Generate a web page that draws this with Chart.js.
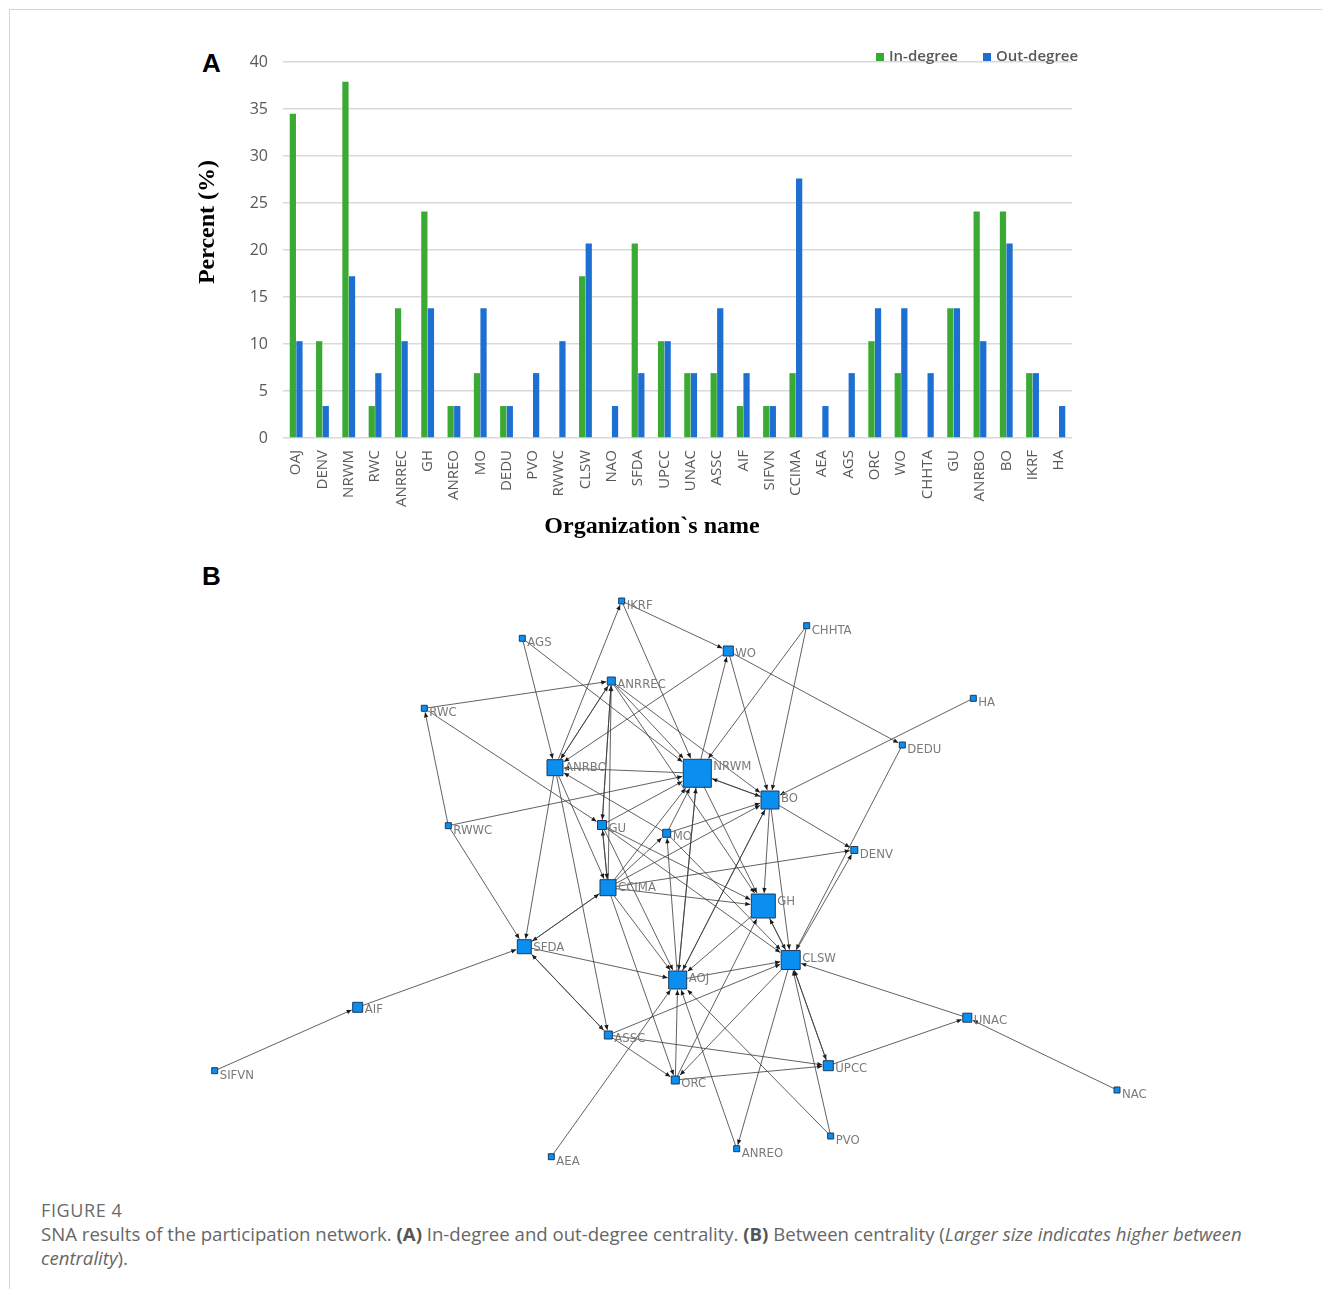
<!DOCTYPE html>
<html>
<head>
<meta charset="utf-8">
<script src="https://cdn.jsdelivr.net/npm/chart.js@4.4.0/dist/chart.umd.min.js"></script>
<style>
  body { margin: 0; background: #fff; width: 1322px; height: 1289px; position: relative; overflow: hidden; }
  #frame { position: absolute; left: 9px; top: 9px; right: 0; bottom: 0; border-left: 1px solid #d6d6d6; border-top: 1px solid #d6d6d6; }
  .panel { position: absolute; font-family: "Liberation Sans", Arial, sans-serif; font-weight: bold; font-size: 26px; color: #000; line-height: 1; }
  #barWrap { position: absolute; left: 190px; top: 30px; }
  #netWrap { position: absolute; left: 0; top: 580px; }
  #caption { position: absolute; left: 41px; top: 1197px; width: 1235px; font-family: "Open Sans", sans-serif; color: #666; }
  #caption .fig { font-size: 18px; line-height: 26px; color: #6a6a6a; letter-spacing: 0.6px; }
  #caption .txt { font-size: 18.6px; line-height: 24px; margin-top: -1px; }
  #caption b { font-weight: 700; color: #555; }
</style>
</head>
<body>
<div id="frame"></div>
<div class="panel" style="left:202px;top:50px;">A</div>
<div class="panel" style="left:202px;top:563px;">B</div>
<div id="barWrap"><canvas id="degreeChart" width="900" height="515"></canvas></div>
<div id="netWrap"><canvas id="netChart" width="1322" height="600"></canvas></div>
<div id="caption">
  <div class="fig">FIGURE 4</div>
  <div class="txt">SNA results of the participation network. <b>(A)</b> In-degree and out-degree centrality. <b>(B)</b> Between centrality (<i>Larger size indicates higher between centrality</i>).</div>
</div>
<script>
// panel A: degree centrality (%)
const orgNames = ["OAJ", "DENV", "NRWM", "RWC", "ANRREC", "GH", "ANREO", "MO", "DEDU", "PVO",
  "RWWC", "CLSW", "NAO", "SFDA", "UPCC", "UNAC", "ASSC", "AIF", "SIFVN", "CCIMA",
  "AEA", "AGS", "ORC", "WO", "CHHTA", "GU", "ANRBO", "BO", "IKRF", "HA"];
const inDegree = [34.5, 10.3, 37.9, 3.4, 13.8, 24.1, 3.4, 6.9, 3.4, 0,
  0, 17.2, 0, 20.7, 10.3, 6.9, 6.9, 3.4, 3.4, 6.9,
  0, 0, 10.3, 6.9, 0, 13.8, 24.1, 24.1, 6.9, 0];
const outDegree = [10.3, 3.4, 17.2, 6.9, 10.3, 13.8, 3.4, 13.8, 3.4, 6.9,
  10.3, 20.7, 3.4, 6.9, 10.3, 6.9, 13.8, 6.9, 3.4, 27.6,
  3.4, 6.9, 13.8, 13.8, 6.9, 13.8, 10.3, 20.7, 6.9, 3.4];
const yTicks = [0, 5, 10, 15, 20, 25, 30, 35, 40];

// panel B: network layout (as in the figure) and betweenness node size
const nodeNames = ["IKRF", "AGS", "CHHTA", "WO", "ANRREC", "RWC", "HA", "DEDU", "ANRBO", "NRWM",
  "BO", "RWWC", "GU", "MO", "DENV", "CCIMA", "GH", "SFDA", "CLSW", "AOJ",
  "AIF", "UNAC", "ASSC", "SIFVN", "UPCC", "ORC", "NAC", "PVO", "ANREO", "AEA"];
const nodeX = [621.7, 522.3, 806.7, 728.3, 611.3, 424.3, 973.3, 902.3, 555, 697.3,
  770, 448.3, 602, 666.7, 854.3, 608, 763.3, 524.3, 790.7, 677.7,
  357.7, 967.3, 608.3, 214.7, 828.3, 675.3, 1117, 830.7, 736.7, 551.3];
const nodeY = [601, 638.3, 625.7, 651, 681, 708.3, 698.3, 745, 767.7, 773.3,
  800, 825.7, 825, 833.3, 850, 887.7, 906, 946.7, 960, 980,
  1007.3, 1017.7, 1035, 1070.7, 1065.7, 1080, 1090, 1136, 1148.7, 1156.7];
const nodeSize = [6, 6, 6, 10, 8, 6, 6, 6, 16, 28,
  18, 6, 9, 8, 7, 16, 24, 14, 19, 18,
  10, 9, 8, 6, 10, 8, 6, 6, 6, 6];

const edgeFrom = ["SIFVN", "AIF", "AEA", "HA", "WO", "DEDU", "CHHTA", "CHHTA", "IKRF", "IKRF",
  "ANRBO", "AGS", "AGS", "RWC", "RWC", "RWWC", "RWWC", "RWWC", "NRWM", "WO",
  "WO", "ANRBO", "CCIMA", "GU", "ANRREC", "ANRREC", "ANRREC", "ANRREC", "NRWM", "NRWM",
  "BO", "NRWM", "NRWM", "GU", "MO", "CCIMA", "AOJ", "BO", "BO", "BO",
  "BO", "MO", "CCIMA", "AOJ", "MO", "ANRBO", "ANRBO", "ANRBO", "GU", "GU",
  "CCIMA", "GU", "CCIMA", "AOJ", "MO", "CCIMA", "SFDA", "CCIMA", "CCIMA", "CCIMA",
  "GH", "CLSW", "ORC", "GH", "SFDA", "SFDA", "ASSC", "AOJ", "UNAC", "CLSW",
  "UPCC", "CLSW", "CLSW", "CLSW", "PVO", "ASSC", "ORC", "PVO", "ANREO", "UPCC",
  "NAC", "ASSC", "ASSC", "ORC", "GU", "CCIMA", "ANRREC"];
const edgeTo = ["AIF", "SFDA", "AOJ", "BO", "DEDU", "CLSW", "BO", "NRWM", "WO", "NRWM",
  "IKRF", "ANRBO", "NRWM", "ANRREC", "GU", "RWC", "NRWM", "SFDA", "WO", "BO",
  "ANRBO", "ANRREC", "ANRREC", "ANRREC", "GU", "NRWM", "BO", "ANRBO", "ANRBO", "BO",
  "NRWM", "GH", "AOJ", "NRWM", "NRWM", "NRWM", "NRWM", "DENV", "GH", "CLSW",
  "AOJ", "BO", "BO", "BO", "ANRBO", "SFDA", "CCIMA", "ASSC", "GH", "AOJ",
  "GU", "CCIMA", "MO", "MO", "CLSW", "SFDA", "CCIMA", "DENV", "GH", "AOJ",
  "CLSW", "GH", "GH", "AOJ", "AOJ", "ASSC", "SFDA", "CLSW", "CLSW", "UPCC",
  "CLSW", "ANREO", "DENV", "ORC", "CLSW", "CLSW", "AOJ", "AOJ", "AOJ", "UNAC",
  "UNAC", "ORC", "UPCC", "UPCC", "CLSW", "ORC", "GH"];

const degreeLegend = {
    id: "degreeLegend",
    afterDraw(chart) {
        const ctx = chart.ctx;
        const area = chart.chartArea;
        const y = area.top - 6;
        ctx.save();
        ctx.font = '600 15px "Open Sans"';
        ctx.textBaseline = "middle";
        ctx.fillStyle = chart.data.datasets[0].backgroundColor;
        ctx.fillRect(area.right - 196, y - 3, 8, 8);
        ctx.fillStyle = "#595959";
        ctx.fillText("In-degree", area.right - 183, y + 1);
        ctx.fillStyle = chart.data.datasets[1].backgroundColor;
        ctx.fillRect(area.right - 89, y - 3, 8, 8);
        ctx.fillStyle = "#595959";
        ctx.fillText("Out-degree", area.right - 76, y + 1);
        ctx.restore();
    }
};

// axis titles sit a bit off-centre in the original figure, so draw them here
const axisTitles = {
    id: "axisTitles",
    afterDraw(chart) {
        const ctx = chart.ctx;
        ctx.save();
        ctx.fillStyle = "#000";
        ctx.font = 'bold 24px "Liberation Serif"';
        ctx.textAlign = "center";
        ctx.textBaseline = "middle";
        ctx.fillText("Organization`s name", 462, 497);
        ctx.translate(18, 192);
        ctx.rotate(-Math.PI / 2);
        ctx.fillText("Percent (%)", 0, 0);
        ctx.restore();
    }
};

new Chart(document.getElementById("degreeChart"), {
    type: "bar",
    data: {
        labels: orgNames,
        datasets: [
            {label: "In-degree", data: inDegree, backgroundColor: "#3aaa35", categoryPercentage: 0.5, barPercentage: 0.95},
            {label: "Out-degree", data: outDegree, backgroundColor: "#1d6fd2", categoryPercentage: 0.5, barPercentage: 0.95}
        ]
    },
    options: {
        responsive: false,
        animation: false,
        layout: {padding: {top: 32, right: 18, left: 0, bottom: 0}},
        plugins: {legend: {display: false}, tooltip: {enabled: false}},
        scales: {
            x: {
                grid: {display: false, drawTicks: false},
                border: {display: false},
                ticks: {minRotation: 90, maxRotation: 90, autoSkip: false, padding: 12,
                    font: {family: "Open Sans", size: 15}, color: "#595959"},
                afterFit(scale) { scale.height = 107; }
            },
            y: {
                min: 0,
                max: 40,
                afterBuildTicks(scale) { scale.ticks = yTicks.map(v => ({value: v})); },
                grid: {color: "#d9d9d9", lineWidth: 1.5, drawTicks: false},
                border: {display: false},
                ticks: {padding: 15, font: {family: "Open Sans", size: 16}, color: "#595959"},
                afterFit(scale) { scale.width = 93; }
            }
        }
    },
    plugins: [degreeLegend, axisTitles]
});

// network edges: straight lines with an arrowhead at the target square
const netEdges = {
    id: "netEdges",
    beforeDatasetsDraw(chart) {
        const ctx = chart.ctx;
        const sx = chart.scales.x, sy = chart.scales.y;
        ctx.save();
        ctx.strokeStyle = "#3a3a3a";
        ctx.fillStyle = "#1a1a1a";
        ctx.lineWidth = 0.8;
        edgeFrom.forEach((from, k) => {
            const a = nodeNames.indexOf(from), b = nodeNames.indexOf(edgeTo[k]);
            const x1 = sx.getPixelForValue(nodeX[a]), y1 = sy.getPixelForValue(nodeY[a]);
            const x2 = sx.getPixelForValue(nodeX[b]), y2 = sy.getPixelForValue(nodeY[b]);
            const dx = x2 - x1, dy = y2 - y1;
            const len = Math.hypot(dx, dy);
            const h = nodeSize[b] / 2 + 1;
            const t = Math.min(h / Math.max(Math.abs(dx), 0.001), h / Math.max(Math.abs(dy), 0.001));
            const ex = x2 - dx * t, ey = y2 - dy * t;
            ctx.beginPath();
            ctx.moveTo(x1, y1);
            ctx.lineTo(ex, ey);
            ctx.stroke();
            const ux = dx / len, uy = dy / len;
            const al = 5, aw = 2.2;
            ctx.beginPath();
            ctx.moveTo(ex, ey);
            ctx.lineTo(ex - ux * al - uy * aw, ey - uy * al + ux * aw);
            ctx.lineTo(ex - ux * al + uy * aw, ey - uy * al - ux * aw);
            ctx.closePath();
            ctx.fill();
        });
        ctx.restore();
    }
};

const netLabels = {
    id: "netLabels",
    afterDatasetsDraw(chart) {
        const ctx = chart.ctx;
        const sx = chart.scales.x, sy = chart.scales.y;
        ctx.save();
        ctx.font = '13px "Liberation Sans Narrow", "DejaVu Sans Condensed", sans-serif';
        ctx.fillStyle = "#7a7a7a";
        ctx.textBaseline = "alphabetic";
        nodeNames.forEach((name, i) => {
            const px = sx.getPixelForValue(nodeX[i]), py = sy.getPixelForValue(nodeY[i]);
            const h = nodeSize[i] / 2;
            ctx.fillText(name, px + h + 2, py - h + 11);
        });
        ctx.restore();
    }
};

new Chart(document.getElementById("netChart"), {
    type: "scatter",
    data: {
        datasets: [{
            data: nodeNames.map((n, i) => ({x: nodeX[i], y: nodeY[i]})),
            pointStyle: "rect",
            pointRadius: nodeSize.map(s => s / Math.SQRT2),
            pointHoverRadius: nodeSize.map(s => s / Math.SQRT2),
            backgroundColor: "#0a8ef0",
            borderColor: "#1d3b5c",
            borderWidth: 1
        }]
    },
    options: {
        responsive: false,
        animation: false,
        layout: {padding: 0, autoPadding: false},
        plugins: {legend: {display: false}, tooltip: {enabled: false}},
        scales: {
            x: {type: "linear", display: false, min: 0, max: 1322},
            y: {type: "linear", display: false, min: 580, max: 1180, reverse: true}
        }
    },
    plugins: [netEdges, netLabels]
});
</script>
</body>
</html>
